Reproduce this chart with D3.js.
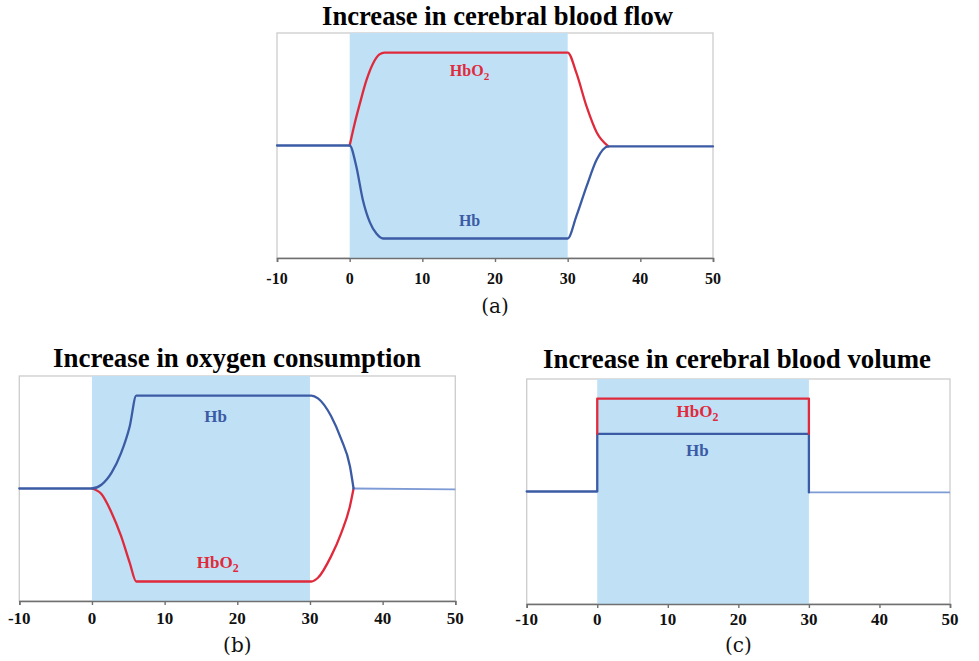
<!DOCTYPE html>
<html><head><meta charset="utf-8">
<script src="https://cdn.jsdelivr.net/npm/d3@7"></script>
<style>body{margin:0;background:#fff;}svg{display:block;}</style>
</head><body>
<svg id="c" width="979" height="661"></svg>
<script>
// ---- data ----
const xTicks = [-10, 0, 10, 20, 30, 40, 50];
const stimulus = [0, 30];

// Panel (a): increase in cerebral blood flow
const aTimeHbO2 = [0, 0.7, 1.4, 2.3, 3.2, 4.1, 4.8, 30, 31.2, 32.6, 34.0, 35.6];
const aHbO2     = [0, 0.24, 0.45, 0.70, 0.88, 0.98, 1.0, 1.0, 0.78, 0.42, 0.14, -0.01];
const aTimeHb   = [-10, 0, 0.9, 1.8, 2.8, 3.7, 4.6, 30, 31.2, 32.6, 34.0, 35.6, 50];
const aHb       = [0, 0, -0.22, -0.58, -0.83, -0.95, -1.0, -1.0, -0.76, -0.44, -0.15, -0.01, -0.01];

// Panel (b): increase in oxygen consumption
const bTimeHb   = [-10, 0, 1.3, 2.7, 4.0, 5.2, 6.1, 30.2, 31.1, 32.9, 34.3, 35.5, 36, 50];
const bHb       = [0, 0, 0.04, 0.17, 0.38, 0.67, 1.0, 1.0, 0.97, 0.78, 0.53, 0.24, 0, -0.01];
const bTimeHbO2 = [0, 1.3, 2.7, 4.0, 5.2, 6.1, 30.2, 31.1, 32.9, 34.3, 35.5, 36];
const bHbO2     = [0, -0.06, -0.26, -0.51, -0.80, -1.0, -1.0, -0.96, -0.73, -0.48, -0.19, 0];

// Panel (c): increase in cerebral blood volume
const cTimeHb   = [-10, 0, 0, 30, 30, 50];
const cHb       = [0, 0, 0.62, 0.62, -0.01, -0.01];
const cTimeHbO2 = [0, 0, 30, 30];
const cHbO2     = [0.62, 1.0, 1.0, 0.62];

const titles = ["Increase in cerebral blood flow", "Increase in oxygen consumption", "Increase in cerebral blood volume"];
const panelTags = ["(a)", "(b)", "(c)"];

// ---- drawing ----
const RED = "#e02a3c", BLUE = "#3b5ba5", BLUE_LIGHT = "#7f9bd6", SHADE = "#bfe0f5";
const svg = d3.select("#c");
const SERIF = "Liberation Serif, Times New Roman, serif";

const panels = [
  {x0: 277, x1: 713, top: 33, bottom: 258, title: titles[0], tag: panelTags[0], smooth: true,
   series: [
     {t: aTimeHbO2, v: aHbO2, c: RED},
     {t: aTimeHb, v: aHb, c: BLUE}],
   labels: [{name: "HbO2", t: 16.5, v: 0.75, c: RED}, {name: "Hb", t: 16.5, v: -0.87, c: BLUE}],
   titleX: 497.5, titleW: 351, titleY: 25, tickSize: 16, labelSize: 16, tickY: 284, tagY: 313},
  {x0: 19.3, x1: 455.3, top: 376, bottom: 601, title: titles[1], tag: panelTags[1], smooth: true,
   series: [
     {t: bTimeHbO2, v: bHbO2, c: RED},
     {t: bTimeHb, v: bHb, c: BLUE, fadeAfter: 36}],
   labels: [{name: "Hb", t: 17, v: 0.72, c: BLUE}, {name: "HbO2", t: 17.3, v: -0.85, c: RED}],
   titleX: 237, titleW: 368, titleY: 367, tickSize: 17, labelSize: 17, tickY: 624, tagY: 652},
  {x0: 526.7, x1: 950, top: 379, bottom: 604, title: titles[2], tag: panelTags[2], smooth: false,
   series: [
     {t: cTimeHb, v: cHb, c: BLUE, fadeAfter: 30},
     {t: cTimeHbO2, v: cHbO2, c: RED}],
   labels: [{name: "HbO2", t: 14.2, v: 0.80, c: RED}, {name: "Hb", t: 14.2, v: 0.38, c: BLUE}],
   titleX: 737, titleW: 388, titleY: 368, tickSize: 17, labelSize: 17, tickY: 625, tagY: 652}
];

panels.forEach(p => {
  const x = d3.scaleLinear().domain([-10, 50]).range([p.x0, p.x1]);
  const y = d3.scaleLinear().domain([-1.21, 1.21]).range([p.bottom, p.top]);
  const g = svg.append("g");

  // frame
  g.append("rect").attr("x", p.x0).attr("y", p.top)
    .attr("width", p.x1 - p.x0).attr("height", p.bottom - p.top)
    .attr("fill", "none").attr("stroke", "#cccccc").attr("stroke-width", 1.3);

  // stimulus shading
  g.append("rect").attr("x", x(stimulus[0])).attr("y", p.top)
    .attr("width", x(stimulus[1]) - x(stimulus[0])).attr("height", p.bottom - p.top)
    .attr("fill", SHADE);

  // x axis
  const ax = g.append("g").attr("transform", `translate(0,${p.bottom})`)
    .call(d3.axisBottom(x).tickValues(xTicks).tickSize(4).tickFormat(""));
  ax.select(".domain").attr("stroke", "#6f6f6f").attr("stroke-width", 1.6);
  ax.selectAll(".tick line").attr("stroke", "#6f6f6f").attr("stroke-width", 1.4);

  g.selectAll(".tl").data(xTicks).join("text")
    .attr("x", d => x(d)).attr("y", p.tickY)
    .attr("text-anchor", "middle")
    .attr("font-family", SERIF)
    .attr("font-weight", "bold").attr("font-size", p.tickSize).attr("fill", "#111")
    .text(d => d);

  // lines
  const line = d3.line().x(d => x(d[0])).y(d => y(d[1]))
    .curve(p.smooth ? d3.curveMonotoneX : d3.curveLinear);
  p.series.forEach(s => {
    const pts = s.t.map((t, i) => [t, s.v[i]]);
    let main = pts, tail = null;
    if (s.fadeAfter !== undefined) {
      let idx = -1;
      pts.forEach((d, i) => { if (Math.abs(d[0] - s.fadeAfter) < 1e-9) idx = i; });
      if (idx >= 0) { main = pts.slice(0, idx + 1); tail = pts.slice(idx); }
    }
    if (tail) {
      g.append("path").attr("d", line(tail)).attr("fill", "none")
        .attr("stroke", BLUE_LIGHT).attr("stroke-width", 1.8);
    }
    g.append("path").attr("d", line(main)).attr("fill", "none")
      .attr("stroke", s.c).attr("stroke-width", 2.3)
      .attr("stroke-linejoin", "round").attr("stroke-linecap", "round");
  });

  // series labels
  p.labels.forEach(l => {
    const t = g.append("text").attr("x", x(l.t)).attr("y", y(l.v))
      .attr("text-anchor", "middle")
      .attr("font-family", SERIF)
      .attr("font-weight", "bold").attr("font-size", p.labelSize).attr("fill", l.c);
    if (l.name === "HbO2") {
      t.append("tspan").text("HbO");
      t.append("tspan").attr("dy", 4).attr("font-size", p.labelSize * 0.7).text("2");
    } else {
      t.text(l.name);
    }
  });

  // title, sized to the reference width
  const tt = svg.append("text").attr("x", p.titleX).attr("y", p.titleY)
    .attr("text-anchor", "middle")
    .attr("font-family", SERIF)
    .attr("font-weight", "bold").attr("font-size", 26).attr("fill", "#000")
    .text(p.title);
  const w = tt.node().getComputedTextLength();
  if (w > 0) tt.attr("font-size", 26 * p.titleW / w);

  // panel tag
  svg.append("text").attr("x", x(20)).attr("y", p.tagY)
    .attr("text-anchor", "middle")
    .attr("font-family", "DejaVu Serif, Liberation Serif, serif")
    .attr("font-size", 20).attr("fill", "#111")
    .text(p.tag);
});
</script>
</body></html>
